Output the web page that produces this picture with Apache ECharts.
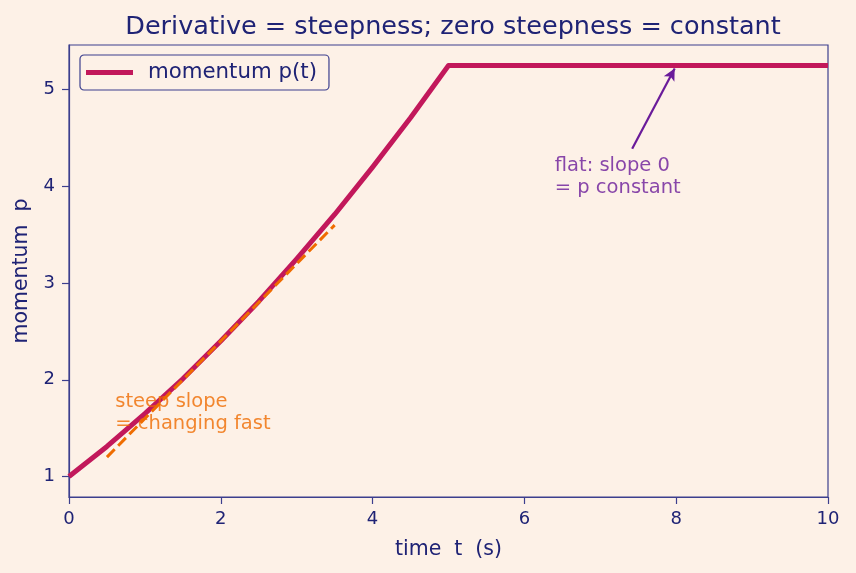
<!DOCTYPE html>
<html>
<head>
<meta charset="utf-8">
<script src="https://cdn.jsdelivr.net/npm/echarts@6/dist/echarts.min.js"></script>
<style>
  html, body { margin: 0; padding: 0; background: #fdf1e7; }
  #chart { width: 856px; height: 573px; }
</style>
</head>
<body>
<div id="chart"></div>
<script>
// momentum curve (t in s, p)
const timeValues = [0, 0.5, 1, 1.5, 2, 2.5, 3, 3.5, 4, 4.5, 5, 10];
const momentumValues = [1.0, 1.31, 1.65, 2.01, 2.4, 2.81, 3.25, 3.71, 4.2, 4.71, 5.25, 5.25];
// dashed tangent segment
const tangentT = [0.5, 3.5];
const tangentP = [1.2, 3.6];
// arrow to the flat part
const arrowFrom = [7.42, 4.39];
const arrowTo = [7.98, 5.22];
const yTicks = [1, 2, 3, 4, 5];

const navy = "#1f2375";
const axisColor = "#3c3f8e";
const font = "DejaVu Sans";

const chart = echarts.init(document.getElementById("chart"), null, { renderer: "canvas" });

chart.setOption({
  animation: false,
  backgroundColor: "#fdf1e7",
  textStyle: { fontFamily: font },
  title: {
    text: "Derivative = steepness; zero steepness = constant",
    left: 448,
    textAlign: "center",
    top: 9,
    textStyle: { color: navy, fontSize: 25.5, fontWeight: "normal", fontFamily: font },
  },
  grid: { left: 69, right: 28, top: 45, bottom: 76, show: true, borderColor: axisColor, borderWidth: 1.2, backgroundColor: "transparent" },
  legend: {
    left: 80,
    top: 55,
    orient: "vertical",
    padding: [7, 12, 7, 6],
    itemWidth: 47,
    itemHeight: 5,
    borderColor: axisColor,
    borderWidth: 1.2,
    borderRadius: 4,
    backgroundColor: "#fdf1e7",
    data: [{ name: "momentum p(t)", icon: "rect" }],
    textStyle: { color: navy, fontSize: 21.3, fontFamily: font, padding: [0, 0, 0, 10] },
  },
  xAxis: {
    type: "value",
    min: 0,
    max: 10,
    interval: 2,
    name: "time  t  (s)",
    nameLocation: "middle",
    nameGap: 42,
    nameTextStyle: { color: navy, fontSize: 20.5, fontFamily: font },
    axisLine: { show: true, lineStyle: { color: axisColor, width: 1.2 } },
    axisTick: { show: true, length: 7, lineStyle: { color: axisColor, width: 1.2 } },
    axisLabel: { color: navy, fontSize: 18, margin: 13, fontFamily: font },
    splitLine: { show: false },
  },
  yAxis: {
    type: "value",
    min: 0.7875,
    max: 5.4625,
    name: "momentum  p",
    nameLocation: "middle",
    nameGap: 37,
    nameTextStyle: { color: navy, fontSize: 20.5, fontFamily: font },
    axisLine: { show: true, lineStyle: { color: axisColor, width: 1.2 } },
    axisTick: { show: true, length: 7, customValues: yTicks, lineStyle: { color: axisColor, width: 1.2 } },
    axisLabel: { color: navy, fontSize: 18, margin: 14, customValues: yTicks, fontFamily: font },
    splitLine: { show: false },
  },
  series: [
    {
      name: "tangent",
      type: "line",
      data: tangentT.map((t, i) => [t, tangentP[i]]),
      showSymbol: false,
      lineStyle: { color: "#ef6c00", width: 3, type: [11, 5] },
      z: 3,
    },
    {
      name: "momentum p(t)",
      type: "line",
      data: timeValues.map((t, i) => [t, momentumValues[i]]),
      smooth: false,
      showSymbol: false,
      color: "#c2185b",
      lineStyle: { color: "#c2185b", width: 5, join: "round" },
      z: 2,
      markLine: {
        silent: true,
        symbol: ["none", "arrow"],
        symbolSize: [9, 12],
        label: { show: false },
        lineStyle: { color: "#6a1b9a", width: 2.2, type: "solid" },
        data: [[{ coord: arrowFrom }, { coord: arrowTo }]],
      },
    },
    {
      name: "notes",
      type: "scatter",
      symbolSize: 0,
      z: 4,
      data: [
        {
          value: [0.61, 1.88],
          label: {
            show: true, position: [0, 0], align: "left", verticalAlign: "top",
            formatter: "steep slope\n= changing fast", color: "#ef6c00",
            fontSize: 19.5, lineHeight: 22, fontFamily: font,
          },
        },
        {
          value: [6.4, 4.33],
          label: {
            show: true, position: [0, 0], align: "left", verticalAlign: "top",
            formatter: "flat: slope 0\n= p constant", color: "#6a1b9a",
            fontSize: 19.5, lineHeight: 22, fontFamily: font,
          },
        },
      ],
    },
  ],
});
</script>
</body>
</html>
